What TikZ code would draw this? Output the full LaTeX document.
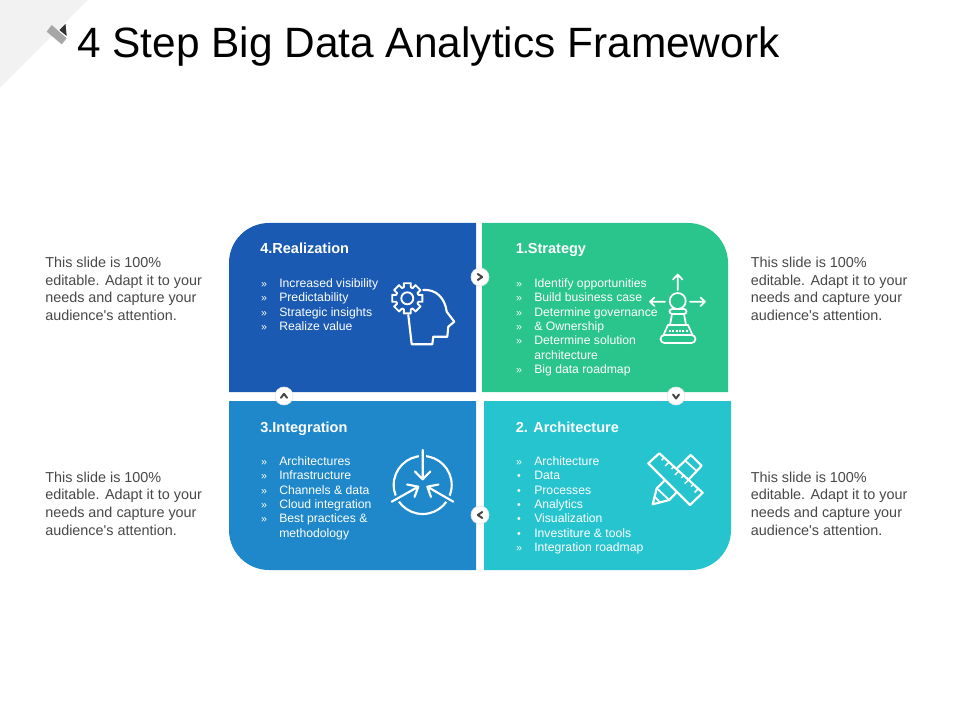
\documentclass[tikz,border=0pt]{standalone}
\usepackage{fontspec}
\setmainfont{Liberation Sans}
\definecolor{cBlue}{HTML}{1B5AB2}
\definecolor{cGreen}{HTML}{2AC58D}
\definecolor{cSky}{HTML}{1F88CA}
\definecolor{cTeal}{HTML}{26C4CF}
\definecolor{cText}{HTML}{484848}
\newcommand{\sidetext}{This slide is 100\%\\editable. Adapt it to your\\needs and capture your\\audience\textquotesingle s attention.}
\tikzset{
  heading/.style={anchor=base west,inner sep=0pt,text=white,font=\fontsize{10.9pt}{12pt}\selectfont\bfseries},
  item/.style={anchor=base west,inner sep=0pt,text=white,font=\fontsize{9.15pt}{10pt}\selectfont},
  bul/.style={anchor=base,inner sep=0pt,text=white,font=\fontsize{8pt}{10pt}\selectfont},
  side/.style={anchor=north west,inner sep=0pt,align=left,text=cText,font=\fontsize{10.8pt}{13.2pt}\selectfont},
  badge/.style={circle,fill=white,draw=black!10,line width=0.5pt,minimum size=13.5pt,inner sep=0pt},
  chev/.style={draw=cText,line width=1.5pt,line cap=round,line join=round},
  icon/.style={draw=white,line width=1.6pt,line join=round,line cap=round},
  thinicon/.style={icon,line width=1.3pt}
}
\begin{document}
\begin{tikzpicture}[x=0.75pt,y=-0.75pt]
\useasboundingbox (0,0) rectangle (960,720);
\fill[white] (0,0) rectangle (960,720);
% corner decoration
\fill[black!5] (0,0) -- (88,0) -- (0,88) -- cycle;
\fill[black!35] (46.7,31.7) -- (51.7,25) -- (66.7,38.3) -- (61.7,44.3) -- cycle;
\fill[black!80] (59.3,30) -- (65.5,24) -- (66.7,36) -- cycle;
\node[anchor=base west,inner sep=0pt,text=black,font=\fontsize{31.8pt}{36pt}\selectfont] (title) at (77,57.5) {4 Step Big Data Analytics Framework};
% panels
\fill[cBlue] (476,223) -- (476,392) -- (229,392) -- (229,263) arc[start angle=180,end angle=270,radius=40] -- cycle;
\fill[cGreen] (482,223) -- (482,392) -- (728,392) -- (728,263) arc[start angle=0,end angle=-90,radius=40] -- cycle;
\fill[cSky] (476,401) -- (476,570) -- (269,570) arc[start angle=90,end angle=180,radius=40] -- (229,401) -- cycle;
\fill[cTeal] (484,401) -- (484,570) -- (691,570) arc[start angle=90,end angle=0,radius=40] -- (731,401) -- cycle;
% headings
\node[heading] (h4) at (260,254) {4.Realization};
\node[heading] (h1) at (515.5,254) {1.Strategy};
\node[heading] (h3) at (260,432) {3.Integration};
\node[heading] (h2) at (515.5,432) {2. Architecture};
% lists
\foreach \i/\y/\b/\t in {1/287/»/Increased visibility,2/301/»/Predictability,3/316/»/Strategic insights,4/330/»/Realize value}
  {\node[bul] (ba\i) at (264,\y) {\b}; \node[item] (ta\i) at (279,\y) {\t};}
\foreach \i/\y/\b/\t in {1/287/»/Identify opportunities,2/301/»/Build business case,3/316/»/Determine governance,4/330/»/\& Ownership,5/344.5/»/Determine solution,6/359/{}/architecture,7/373/»/Big data roadmap}
  {\node[bul] (bb\i) at (519,\y) {\b}; \node[item] (tb\i) at (534,\y) {\t};}
\foreach \i/\y/\b/\t in {1/465/»/Architectures,2/479/»/Infrastructure,3/494/»/Channels \& data,4/508/»/Cloud integration,5/522/»/Best practices \&,6/537/{}/methodology}
  {\node[bul] (bc\i) at (264,\y) {\b}; \node[item] (tc\i) at (279,\y) {\t};}
\foreach \i/\y/\b/\t in {1/465/»/Architecture,2/479/•/Data,3/494/•/Processes,4/508/•/Analytics,5/522/•/Visualization,6/537/•/Investiture \& tools,7/551/»/Integration roadmap}
  {\node[bul] (bd\i) at (519,\y) {\b}; \node[item] (td\i) at (534,\y) {\t};}
% side texts
\node[side] (s1) at (45,257) {\sidetext};
\node[side] (s2) at (750.5,257) {\sidetext};
\node[side] (s3) at (45,471.5) {\sidetext};
\node[side] (s4) at (750.5,471.5) {\sidetext};
% badges
\node[badge] (bR) at (480,277) {};
\node[badge] (bU) at (284,396) {};
\node[badge] (bD) at (676,396) {};
\node[badge] (bL) at (480,515) {};
\draw[chev] (477.8,274) -- (482.2,277) -- (477.8,280);
\draw[chev] (281,397.8) -- (284,393.8) -- (287,397.8);
\draw[chev] (673,394.5) -- (676,398.5) -- (679,394.5);
\draw[chev] (482.2,512) -- (477.8,515) -- (482.2,518);
% head icon
\draw[icon] (423.3,290) .. controls (436,289) and (445,298) .. (446.7,311.7) -- (454.3,321.7) -- (448.3,326.7) -- (447.3,336.7) -- (433.3,336.7) -- (432.3,344.3) -- (411.7,344.3) -- (408.3,315);
\fill[cBlue] (407.3,298.3) circle[radius=15];
\draw[icon,line width=1.4pt] (407.3,298.3) circle[radius=6];
\draw[icon,line width=1.4pt]
  \foreach \a in {0,45,...,315}{
    ({407.3+11.5*cos(\a-22.5+5)},{298.3+11.5*sin(\a-22.5+5)}) --
    ({407.3+15.5*cos(\a-13)},{298.3+15.5*sin(\a-13)}) --
    ({407.3+15.5*cos(\a+13)},{298.3+15.5*sin(\a+13)}) --
    ({407.3+11.5*cos(\a+22.5-5)},{298.3+11.5*sin(\a+22.5-5)})
    arc[start angle=\a+17.5,end angle=\a+27.5,radius=11.5]
  };
% pawn icon
\draw[thinicon] (677.7,290) -- (677.7,274.5) (673,279.5) -- (677.7,274.5) -- (682.4,279.5);
\draw[thinicon] (665,301.7) -- (650,301.7) (654.5,297.5) -- (650,301.7) -- (654.5,306);
\draw[thinicon] (690,301.7) -- (705,301.7) (700.5,297.5) -- (705,301.7) -- (700.5,306);
\draw[thinicon] (677.7,301) circle[radius=8];
\draw[thinicon,rounded corners=2pt] (669.5,309) rectangle (686.5,314);
\draw[thinicon] (672,314) -- (670,325) (684,314) -- (686,325) (668,325) -- (688,325);
\draw[thinicon] (668,325) -- (663.5,335) (688,325) -- (692.5,335);
\draw[thinicon,rounded corners=3pt] (660.5,335) rectangle (695.5,343);
\draw[white,line width=1pt,dash pattern=on 1.5pt off 1pt] (669,331) -- (689,331);
% integration icon
\draw[icon] (422.7,485) circle[radius=29];
\draw[cSky,line width=5pt] (422.7,448) -- (422.7,470);
\draw[cSky,line width=5pt] (391.7,501.7) -- (404,494.8);
\draw[cSky,line width=5pt] (453.3,501.7) -- (441,494.8);
\draw[icon] (422.7,450) -- (422.7,479.3) (415,471.5) -- (422.7,479.3) -- (430.4,471.5);
\draw[icon] (391.7,501.7) -- (418.3,486.7) (407,484.5) -- (418.3,486.7) -- (414.5,497);
\draw[icon] (453.3,501.7) -- (427.3,486.7) (438.5,484.5) -- (427.3,486.7) -- (431,497);
% tools icon
\draw[icon] (690.7,455) -- (701.7,465.7) -- (669.3,500) -- (652.7,504.3) -- (656.7,488.3) -- cycle;
\draw[thinicon] (656.7,488.3) -- (669.3,500) (685,460.5) -- (696.7,471);
\draw[thinicon] (654.5,496.5) -- (660,502.3);
\fill[cTeal] (659.3,453.3) -- (648.3,463.3) -- (690,505) -- (702.7,492.7) -- cycle;
\draw[icon] (659.3,453.3) -- (648.3,463.3) -- (690,505) -- (702.7,492.7) -- cycle;
\foreach \k/\l in {1/2.6,2/4,3/2.6,4/4,5/2.6,6/4,7/2.6,8/4}{
  \coordinate (ra\k) at ({659.3+\k*4.9},{453.3+\k*4.4});
  \coordinate (rb\k) at ({659.3+\k*4.9-\l},{453.3+\k*4.4+\l});
  \draw[white,line width=1.1pt] (ra\k) -- (rb\k);
}
\end{tikzpicture}
\end{document}
